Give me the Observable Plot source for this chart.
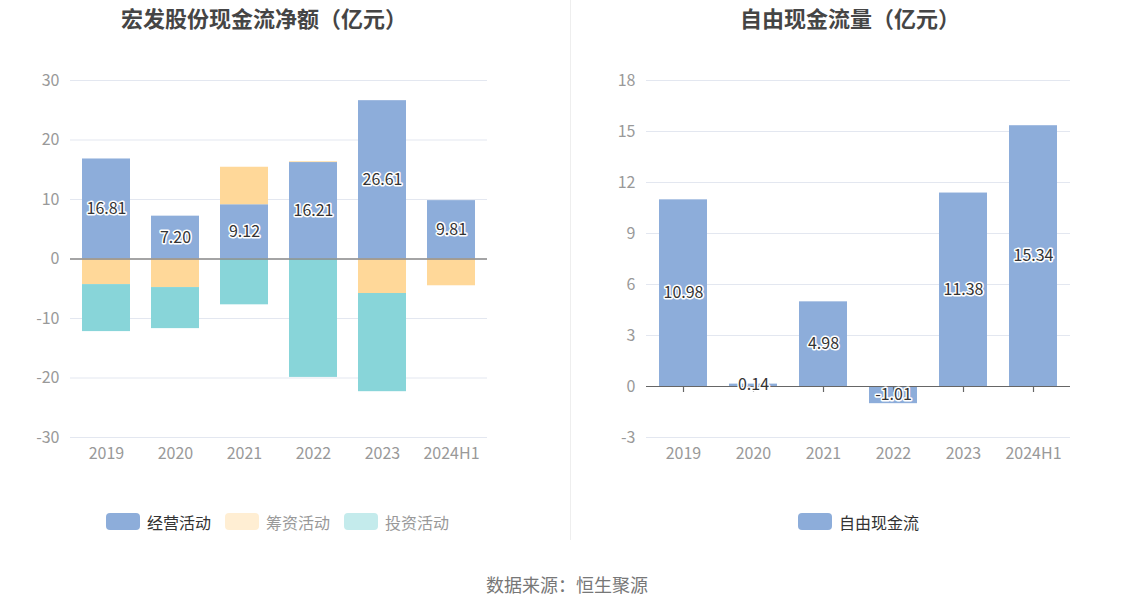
<!DOCTYPE html>
<html>
<head>
<meta charset="utf-8">
<script src="https://cdn.jsdelivr.net/npm/d3@7"></script>
<script src="https://cdn.jsdelivr.net/npm/@observablehq/plot@0.6"></script>
<style>
  html, body { margin: 0; padding: 0; background: #fff; }
  body { font-family: "Noto Sans CJK SC", "Noto Sans", sans-serif; }
  #root { position: relative; width: 1134px; height: 612px; overflow: hidden; }
  .abs { position: absolute; }
  .title { font-size: 22px; font-weight: bold; color: #454545; white-space: nowrap; line-height: 1; }
  .legend { display: flex; align-items: center; gap: 14px; font-size: 16px; line-height: 1; white-space: nowrap; }
  .item { display: flex; align-items: center; }
  .sw { width: 34px; height: 17px; border-radius: 4px; margin-right: 7px; }
  .caption { font-size: 18px; color: #777; white-space: nowrap; line-height: 1; }
  .divider { left: 570px; top: 0; width: 1px; height: 540px; background: #eeeeee; }
</style>
</head>
<body>
<div id="root"></div>
<script>
// ---- data ----
const years = ["2019", "2020", "2021", "2022", "2023", "2024H1"];
const operating = [16.81, 7.20, 9.12, 16.21, 26.61, 9.81];
const financing = [-4.3, -4.8, 6.3, 0.12, -5.8, -4.5];
const investing = [-7.9, -6.9, -7.7, -19.9, -16.5, 0];
const fcf = [10.98, 0.14, 4.98, -1.01, 11.38, 15.34];
const seriesNames = ["经营活动", "筹资活动", "投资活动"];
const fcfName = "自由现金流";
const leftTicks = [-30, -20, -10, 0, 10, 20, 30];
const rightTicks = [-3, 0, 3, 6, 9, 12, 15, 18];
const leftTitle = "宏发股份现金流净额（亿元）";
const rightTitle = "自由现金流量（亿元）";
const captionText = "数据来源：恒生聚源";

const seriesColors = ["#8dadda", "#ffd899", "#88d5d9"];
const legendSwatch = ["#8dadda", "#ffeed3", "#c4ebec"];
const legendText = ["#333", "#999", "#999"];

const stacked = [];
years.forEach((y, i) => {
  stacked.push({year: y, series: seriesNames[0], value: operating[i]});
  stacked.push({year: y, series: seriesNames[1], value: financing[i]});
  stacked.push({year: y, series: seriesNames[2], value: investing[i]});
});
const opData = years.map((y, i) => ({year: y, value: operating[i]}));
const fcfData = years.map((y, i) => ({year: y, value: fcf[i]}));

const root = document.getElementById("root");
const font = '"Noto Sans CJK SC", "Noto Sans", sans-serif';
const plain = d => String(d);

const xScale = {type: "band", domain: years, paddingInner: 0.31, paddingOuter: 0.155};

// ---- left chart ----
const left = Plot.plot({
  width: 570, height: 470,
  marginLeft: 70, marginRight: 83, marginTop: 80, marginBottom: 33,
  style: {fontFamily: font, fontSize: "16px", color: "#999", background: "transparent"},
  x: {...xScale, label: null},
  y: {domain: [-30, 30], label: null},
  color: {domain: seriesNames, range: seriesColors},
  marks: [
    Plot.gridY(leftTicks, {stroke: "#e3e7f0", strokeOpacity: 1}),
    Plot.barY(stacked, {x: "year", y: "value", fill: "series", order: seriesNames}),
    Plot.ruleY([0], {stroke: "#8a8a8a", strokeWidth: 1.6}),
    Plot.axisY({ticks: leftTicks, tickFormat: plain, tickSize: 0, tickPadding: 11, fontSize: 16, fill: "#999"}),
    Plot.axisX({tickSize: 0, tickPadding: 10, fontSize: 16, fill: "#999"}),
    Plot.text(opData, {x: "year", y: d => d.value / 2, text: d => d.value.toFixed(2),
      fill: "#333", stroke: "white", strokeWidth: 3, fontSize: 16})
  ]
});
left.classList.add("abs");
left.style.left = "0px"; left.style.top = "0px";
root.appendChild(left);

// ---- right chart ----
const right = Plot.plot({
  width: 564, height: 470,
  marginLeft: 76, marginRight: 64, marginTop: 80, marginBottom: 33,
  style: {fontFamily: font, fontSize: "16px", color: "#999", background: "transparent"},
  x: {...xScale, label: null},
  y: {domain: [-3, 18], label: null},
  marks: [
    Plot.gridY(rightTicks, {stroke: "#e3e7f0", strokeOpacity: 1}),
    Plot.barY(fcfData, {x: "year", y: "value", fill: seriesColors[0]}),
    Plot.ruleY([0], {stroke: "#666", strokeWidth: 1.2}),
    Plot.ruleX(fcfData, {x: "year", y1: 0, y2: 0, insetBottom: -6, stroke: "#666", strokeWidth: 1.2}),
    Plot.axisY({ticks: rightTicks, tickFormat: plain, tickSize: 0, tickPadding: 11, fontSize: 16, fill: "#999"}),
    Plot.axisX({tickSize: 0, tickPadding: 10, fontSize: 16, fill: "#999"}),
    Plot.text(fcfData, {x: "year", y: d => d.value / 2, text: d => d.value.toFixed(2),
      fill: "#333", stroke: "white", strokeWidth: 3, fontSize: 16})
  ]
});
right.classList.add("abs");
right.style.left = "570px"; right.style.top = "0px";
root.appendChild(right);

// ---- titles ----
function addTitle(text, cx) {
  const d = document.createElement("div");
  d.className = "abs title";
  d.textContent = text;
  root.appendChild(d);
  d.style.top = "6px";
  d.style.left = (cx - d.offsetWidth / 2) + "px";
}
addTitle(leftTitle, 264);
addTitle(rightTitle, 850);

// ---- divider ----
const div = document.createElement("div");
div.className = "abs divider";
root.appendChild(div);

// ---- legends ----
function addLegend(names, swatches, texts, x) {
  const lg = document.createElement("div");
  lg.className = "abs legend";
  lg.style.left = x + "px";
  lg.style.top = "513px";
  names.forEach((n, i) => {
    const it = document.createElement("div");
    it.className = "item";
    const sw = document.createElement("div");
    sw.className = "sw";
    sw.style.background = swatches[i];
    const t = document.createElement("span");
    t.textContent = n;
    t.style.color = texts[i];
    it.appendChild(sw); it.appendChild(t);
    lg.appendChild(it);
  });
  root.appendChild(lg);
}
addLegend(seriesNames, legendSwatch, legendText, 106);
addLegend([fcfName], [seriesColors[0]], ["#333"], 798);

// ---- caption ----
const cap = document.createElement("div");
cap.className = "abs caption";
cap.textContent = captionText;
root.appendChild(cap);
cap.style.top = "575px";
cap.style.left = (567 - cap.offsetWidth / 2) + "px";
</script>
</body>
</html>
